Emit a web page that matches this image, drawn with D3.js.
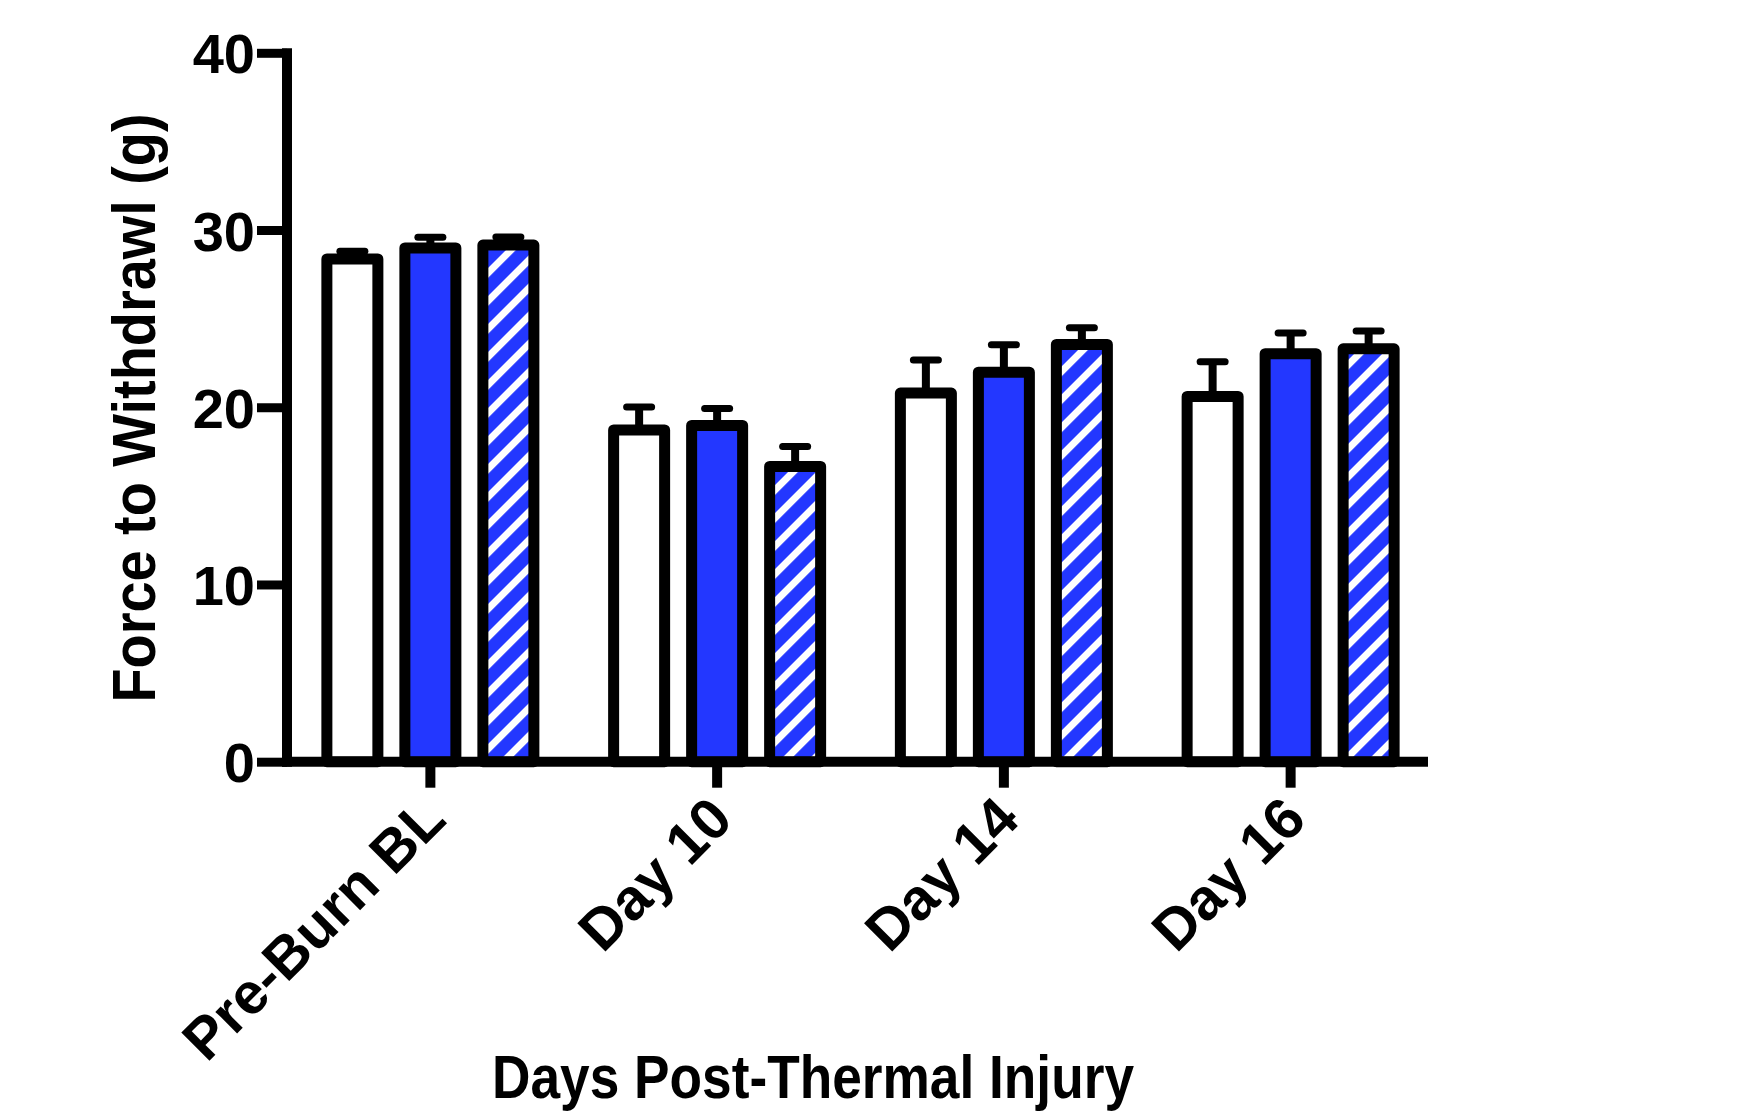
<!DOCTYPE html>
<html>
<head>
<meta charset="utf-8">
<script src="https://cdn.jsdelivr.net/npm/d3@7"></script>
<style>
  html, body { margin: 0; padding: 0; background: #fff; }
  svg { display: block; }
  text { font-family: "Liberation Sans", Arial, Helvetica, sans-serif; font-weight: bold; fill: #000; }
</style>
</head>
<body>
<svg id="chart" width="1743" height="1113"></svg>
<script>
// ---- data ----
const categories = ["Pre-Burn BL", "Day 10", "Day 14", "Day 16"];
const seriesNames = ["Group 1", "Group 2", "Group 3"];
const means = [
  [28.37, 28.99, 29.15],
  [18.72, 18.97, 16.66],
  [20.80, 21.98, 23.54],
  [20.61, 23.02, 23.30]
];
const sems = [
  [0.43, 0.60, 0.45],
  [1.30, 0.96, 1.13],
  [1.87, 1.55, 0.94],
  [1.96, 1.17, 1.00]
];
const yTicks = [0, 10, 20, 30, 40];
const yTitle = "Force to Withdrawl (g)";
const xTitle = "Days Post-Thermal Injury";

// ---- layout ----
const svg = d3.select("#chart");
const blue = "#2337ff";

const defs = svg.append("defs");
const pat = defs.append("pattern")
  .attr("id", "hatch")
  .attr("patternUnits", "userSpaceOnUse")
  .attr("width", 19.8).attr("height", 19.8)
  .attr("patternTransform", "rotate(45)");
pat.append("rect").attr("width", 19.8).attr("height", 19.8).attr("fill", blue);
pat.append("rect").attr("x", 0).attr("y", 0).attr("width", 7).attr("height", 19.8).attr("fill", "#fff");

const fills = ["#ffffff", blue, "url(#hatch)"];

const y = d3.scaleLinear().domain([0, 40]).range([761.7, 52.8]);
const x0 = d3.scaleBand().domain(categories).range([287, 1434]);
const x1 = d3.scaleBand().domain(seriesNames).range([-117, 117]);
const barW = 51;

const rows = [];
categories.forEach((c, i) => {
  seriesNames.forEach((s, j) => {
    rows.push({ cat: c, ser: s, j, mean: means[i][j], sem: sems[i][j] });
  });
});
const cx = d => x0(d.cat) + x0.bandwidth() / 2 + x1(d.ser) + x1.bandwidth() / 2;

// error bars (upper only)
const eb = svg.append("g");
eb.selectAll("line.stem").data(rows).join("line")
  .attr("x1", cx).attr("x2", cx)
  .attr("y1", d => y(d.mean)).attr("y2", d => y(d.mean + d.sem))
  .attr("stroke", "#000").attr("stroke-width", 8);
eb.selectAll("line.cap").data(rows).join("line")
  .attr("x1", d => cx(d) - 12.5).attr("x2", d => cx(d) + 12.5)
  .attr("y1", d => y(d.mean + d.sem)).attr("y2", d => y(d.mean + d.sem))
  .attr("stroke", "#000").attr("stroke-width", 7).attr("stroke-linecap", "round");

// bars
svg.append("g").selectAll("rect").data(rows).join("rect")
  .attr("x", d => cx(d) - barW / 2)
  .attr("y", d => y(d.mean))
  .attr("width", barW)
  .attr("height", d => y(0) - y(d.mean))
  .attr("fill", d => fills[d.j])
  .attr("stroke", "#000")
  .attr("stroke-width", 11)
  .attr("stroke-linejoin", "round");

// y axis
const yAxis = d3.axisLeft(y).tickValues(yTicks).tickSize(30).tickPadding(4).tickFormat(d3.format("d"));
const gy = svg.append("g").attr("transform", "translate(287,0)").call(yAxis);
gy.select(".domain").remove();
gy.selectAll(".tick line").attr("stroke", "#000").attr("stroke-width", 9);
gy.selectAll(".tick text").attr("font-size", 56).attr("font-family", null).attr("x", -32).attr("dy", "0.36em");
svg.append("line").attr("x1", 287).attr("x2", 287)
  .attr("y1", y(40) - 4.5).attr("y2", y(0) + 5)
  .attr("stroke", "#000").attr("stroke-width", 10);

// x axis
const xAxis = d3.axisBottom(x0).tickSize(26).tickFormat("");
const gx = svg.append("g").attr("transform", `translate(0,${y(0)})`).call(xAxis);
gx.select(".domain").remove();
gx.selectAll(".tick line").attr("stroke", "#000").attr("stroke-width", 10);
svg.append("line").attr("x1", 282).attr("x2", 1428)
  .attr("y1", y(0)).attr("y2", y(0))
  .attr("stroke", "#000").attr("stroke-width", 10);

// x tick labels rotated
svg.append("g").selectAll("text").data(categories).join("text")
  .attr("transform", d => `translate(${x0(d) + x0.bandwidth() / 2 + 18},${822}) rotate(-45)`)
  .attr("text-anchor", "end")
  .attr("font-size", 58)
  .text(d => d);

// titles
svg.append("text")
  .attr("transform", "translate(155,408) rotate(-90)")
  .attr("text-anchor", "middle")
  .attr("font-size", 62)
  .attr("textLength", 589).attr("lengthAdjust", "spacingAndGlyphs")
  .text(yTitle);

svg.append("text")
  .attr("x", 813).attr("y", 1098)
  .attr("text-anchor", "middle")
  .attr("font-size", 62)
  .attr("textLength", 642).attr("lengthAdjust", "spacingAndGlyphs")
  .text(xTitle);
</script>
</body>
</html>
